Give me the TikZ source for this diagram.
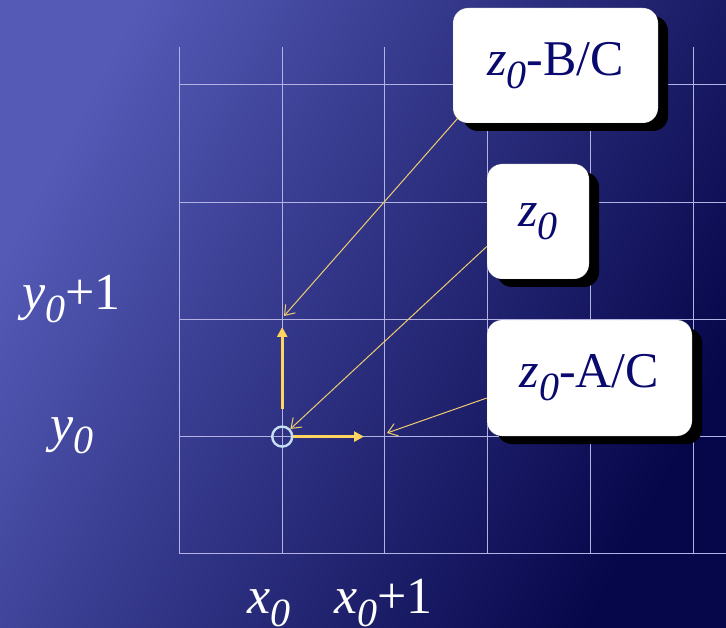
\documentclass[tikz,border=0pt]{standalone}
\usepackage{fontspec}
\setmainfont{Liberation Serif}
\usetikzlibrary{arrows.meta, shadows}
\definecolor{bglight}{RGB}{84,90,182}
\definecolor{bgdark}{RGB}{6,6,74}
\definecolor{gridcol}{RGB}{178,178,228}
\definecolor{navytext}{RGB}{10,10,110}
\definecolor{gold}{RGB}{255,212,95}
\definecolor{paleyellow}{RGB}{238,204,112}
\definecolor{paleblue}{RGB}{198,222,242}
\newcommand{\idx}[1]{\raisebox{-13pt}{\fontsize{40}{40}\selectfont\itshape #1}}
\tikzset{
    gridline/.style={draw=gridcol, line width=1pt},
    card/.style={rectangle, rounded corners=15pt, fill=white, draw=black!60, densely dotted, text=navytext, font=\fontsize{50}{50}\selectfont, drop shadow={shadow xshift=10pt, shadow yshift=-8pt, fill=black, opacity=1}},
    axistext/.style={text=white, font=\fontsize{52}{52}\selectfont, inner sep=0pt},
    origin/.style={circle, draw=paleblue, line width=2.4pt, minimum size=20pt, inner sep=0pt},
    pointer/.style={draw=paleyellow, line width=1pt, -{Straight Barb[length=9pt, width=13pt]}},
    axisarrow/.style={draw=gold, line width=3pt, -{Triangle[length=10pt, width=10pt]}}
}

\begin{document}
\begin{tikzpicture}[x=1pt, y=-1pt]
    \useasboundingbox (0,0) rectangle (726,628);
    \shade[top color=bglight, bottom color=bgdark, shading angle=62] (0,0) rectangle (726,628);
    \foreach \x in {179.5,282.2,384.9,487.6,590.3,693}
        \draw[gridline] (\x,47) -- (\x,553.8);
    \foreach \y in {85,202.2,319.4,436.6,553.8}
        \draw[gridline] (179.5,\y) -- (726,\y);

    \node (org) [origin] at (282.2,436.6) {};
    \coordinate (upTip) at (282.2,327);
    \coordinate (rightTip) at (364,436.6);
    \coordinate (tgtB) at (284,316);
    \coordinate (tgtA) at (387,433);

    \node (bc) [card, minimum width=205pt, minimum height=115pt] at (555.5,65.5) {\textit{z}\idx{0}-B/C};
    \node (z) [card, minimum width=102pt, minimum height=115pt] at (538,221.5) {\textit{z}\idx{0}};
    \node (ac) [card, minimum width=205pt, minimum height=116pt] at (589.5,378) {\textit{z}\idx{0}-A/C};

    \draw[pointer] ([shift={(5pt,5pt)}]bc.south west) -- (tgtB);
    \draw[pointer] ([yshift=-25pt]z.west) -- (org);
    \draw[pointer] ([yshift=-20pt]ac.west) -- (tgtA);
    \draw[axisarrow] ([yshift=28pt]org.center) -- (upTip);
    \draw[axisarrow] (org) -- (rightTip);

    \node (yone) [axistext, anchor=base west] at (22,310) {\textit{y}\idx{0}+1};
    \node (yzero) [axistext, anchor=base west] at (50,441) {\textit{y}\idx{0}};
    \node (xzero) [axistext, anchor=base west] at (247,613) {\textit{x}\idx{0}};
    \node (xone) [axistext, anchor=base west] at (334,613) {\textit{x}\idx{0}+1};
\end{tikzpicture}
\end{document}
